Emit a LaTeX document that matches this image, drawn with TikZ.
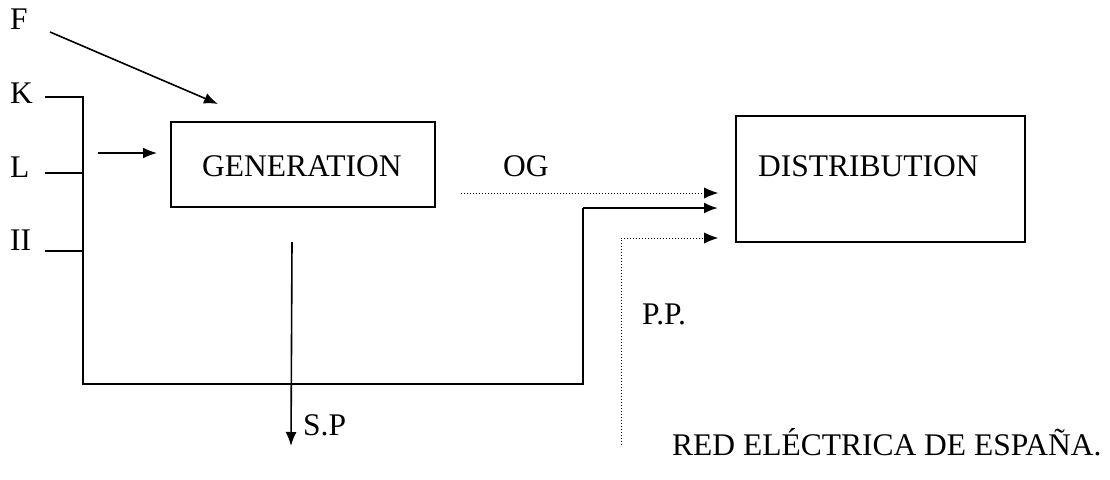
\documentclass[tikz,border=0pt]{standalone}
\usepackage{fontspec}
\setmainfont{Liberation Serif}
\usetikzlibrary{arrows.meta}
\begin{document}
\begin{tikzpicture}[x=1pt,y=-1pt,
  lbl/.style={anchor=base west,inner sep=0pt,font=\fontsize{31.5}{38}\selectfont},
  blk/.style={draw,line width=2pt,inner sep=0pt},
  ln/.style={line width=2.2pt},
  arr/.style={line width=1.6pt,-{Latex[length=14pt,width=11pt]}},
  dot/.style={line width=1pt,dotted,-{Latex[length=14pt,width=11pt,line width=0pt]}}]
\useasboundingbox (0,0) rectangle (1110,479);
% boxes
\node[blk,minimum width=264pt,minimum height=85pt] (gen) at (303,164.5) {};
\node[lbl] (gent) at (202,176) {GENERATION};
\node[blk,minimum width=289pt,minimum height=126pt] (dist) at (880.5,179) {};
\node[lbl] (distt) at (758,176) {DISTRIBUTION};
% labels
\node[lbl] (F) at (10,29) {F};
\node[lbl] (K) at (10,103) {K};
\node[lbl] (L) at (10,177) {L};
\node[lbl] (II) at (10,250) {II};
\node[lbl] (OG) at (503,176) {OG};
\node[lbl] (PP) at (642,324) {P.P.};
\node[lbl] (SP) at (303,435) {S.P};
\node[lbl] (red) at (672,455) {RED ELÉCTRICA DE ESPAÑA.};
% coordinates
\coordinate (f0) at (50,32); \coordinate (f1) at (218,104);
\coordinate (k0) at (45,97); \coordinate (k1) at (83,97);
\coordinate (l0) at (45,173); \coordinate (l1) at (83,173);
\coordinate (i0) at (45,251); \coordinate (i1) at (83,251);
\coordinate (b0) at (83,384); \coordinate (b1) at (583,384);
\coordinate (b2) at (583,208); \coordinate (b3) at (718,208);
\coordinate (a0) at (98,153); \coordinate (a1) at (157,153);
\coordinate (o0) at (461,193); \coordinate (o1) at (718,193);
\coordinate (p0) at (621,445); \coordinate (p1) at (621,238); \coordinate (p2) at (718,238);
\coordinate (s0) at (292,242); \coordinate (s1) at (291,446);
% connectors
\draw[arr] (f0) -- (f1);
\draw[ln] (k0) -- (k1) -- (b0) -- (b1) -- (b2);
\draw[arr,line width=2.2pt] (b2) -- (b3);
\draw[ln] (l0) -- (l1);
\draw[ln] (i0) -- (i1);
\draw[arr] (a0) -- (a1);
\draw[dot] (o0) -- (o1);
\draw[dot] (p0) -- (p1) -- (p2);
\draw[arr] (s0) -- (s1);
\end{tikzpicture}
\end{document}
